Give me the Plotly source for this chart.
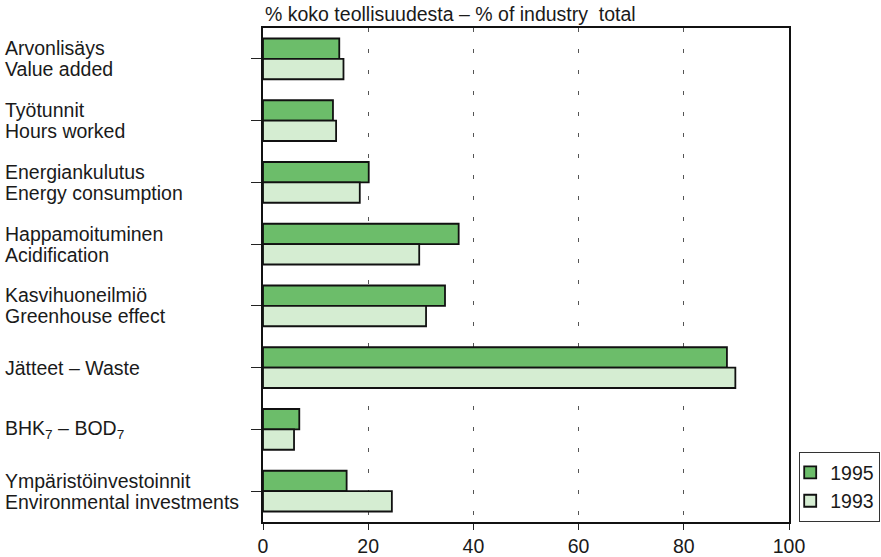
import plotly.graph_objects as go

categories_fi = ["Arvonlisäys", "Työtunnit", "Energiankulutus", "Happamoituminen",
                 "Kasvihuoneilmiö", "Jätteet – Waste", "BHK<sub>7</sub> – BOD<sub>7</sub>",
                 "Ympäristöinvestoinnit"]
categories_en = ["Value added", "Hours worked", "Energy consumption", "Acidification",
                 "Greenhouse effect", "", "", "Environmental investments"]
values_1995 = [14.5, 13.3, 20.1, 37.2, 34.6, 88.2, 6.9, 15.9]
values_1993 = [15.3, 13.9, 18.4, 29.7, 31.0, 89.8, 5.9, 24.5]
x_ticks = [0, 20, 40, 60, 80, 100]
title_text = "% koko teollisuudesta – % of industry\u00a0\u00a0total"

cats = list(range(len(categories_fi)))
FONT = "Liberation Sans, Arial, Helvetica, sans-serif"
FS = 19.5

fig = go.Figure()
fig.add_trace(go.Bar(name="1995", y=cats, x=values_1995, orientation="h",
                     marker=dict(color="#6cbd6a", line=dict(color="#111111", width=1.8))))
fig.add_trace(go.Bar(name="1993", y=cats, x=values_1993, orientation="h",
                     marker=dict(color="#d5edd2", line=dict(color="#111111", width=1.8))))

annotations = []
for i, (fi, en) in enumerate(zip(categories_fi, categories_en)):
    if en:
        annotations.append(dict(x=0, xref="paper", y=i, yref="y", text=fi, showarrow=False,
                                xanchor="left", yanchor="middle", xshift=-260, yshift=10.5,
                                font=dict(size=FS, color="#1a1a1a", family=FONT)))
        annotations.append(dict(x=0, xref="paper", y=i, yref="y", text=en, showarrow=False,
                                xanchor="left", yanchor="middle", xshift=-260, yshift=-10.5,
                                font=dict(size=FS, color="#1a1a1a", family=FONT)))
    else:
        annotations.append(dict(x=0, xref="paper", y=i, yref="y", text=fi, showarrow=False,
                                xanchor="left", yanchor="middle", xshift=-260,
                                font=dict(size=FS, color="#1a1a1a", family=FONT)))
annotations.append(dict(x=0, xref="paper", y=1, yref="paper", text=title_text, showarrow=False,
                        xanchor="left", yanchor="bottom", yshift=1,
                        font=dict(size=FS, color="#1a1a1a", family=FONT)))

fig.update_layout(
    width=881, height=557,
    margin=dict(l=263, r=92, t=28, b=35),
    paper_bgcolor="white", plot_bgcolor="white",
    barmode="group", bargap=0.34, bargroupgap=0,
    font=dict(family=FONT, size=FS, color="#1a1a1a"),
    showlegend=True,
    legend=dict(xref="container", yref="container", x=799 / 881, y=35 / 557,
                xanchor="left", yanchor="bottom", traceorder="normal",
                bordercolor="#333333", borderwidth=1.2, bgcolor="white",
                font=dict(size=FS, family=FONT), itemwidth=30, tracegroupgap=0,
                indentation=-10),
    annotations=annotations,
)
fig.update_xaxes(range=[0, 100], tickvals=x_ticks, ticks="outside", ticklen=6, tickwidth=1,
                 tickcolor="#222222", showline=True, linecolor="#111111", linewidth=2,
                 mirror=True, showgrid=True, gridcolor="#555555", gridwidth=1,
                 griddash="4px,17px", zeroline=False, automargin=False,
                 tickfont=dict(size=FS, family=FONT))
fig.update_yaxes(range=[len(cats) - 0.5, -0.5], tickvals=cats, showticklabels=False,
                 ticks="outside", ticklen=10, tickwidth=1, tickcolor="#222222",
                 showline=True, linecolor="#111111", linewidth=1.5, mirror=True,
                 showgrid=False, zeroline=False, automargin=False)

fig.write_html("out.html", config={"displayModeBar": False},
               post_script="document.body.style.margin='0';")
